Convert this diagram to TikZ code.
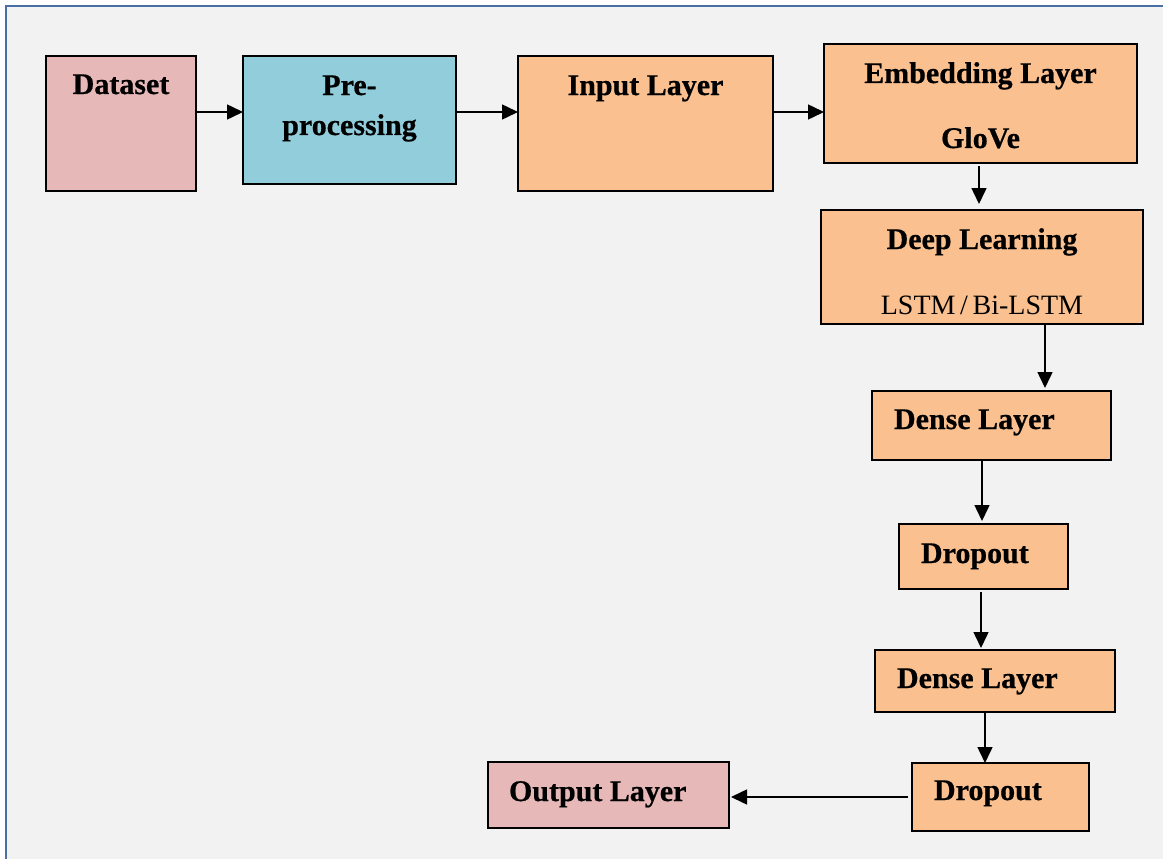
\documentclass[tikz,border=0pt]{standalone}
\usepackage{fontspec}
\setmainfont{Liberation Serif}[BoldFeatures={FakeBold=0.6}]
\usetikzlibrary{arrows.meta}

\definecolor{bgc}{HTML}{F2F2F2}
\definecolor{framec}{HTML}{4A6FA5}
\definecolor{pinkc}{HTML}{E6B9B8}
\definecolor{bluec}{HTML}{92CDDC}
\definecolor{orangec}{HTML}{FAC090}

% fixed-size box contents: width, height, text (text hangs from the top)
\newcommand\boxcontent[3]{\parbox[c][#2][t]{#1}{#3}}
\newcommand\topgap[1]{\rule{0pt}{#1}}

\tikzset{
  block/.style={draw=black, line width=2pt, inner sep=0pt, outer sep=0pt,
    font=\fontsize{30}{36}\selectfont\bfseries},
  conn/.style={line width=1.5pt, -{Triangle[length=16pt,width=15pt]}},
}

\begin{document}
\begin{tikzpicture}[x=1pt,y=-1pt]
  \useasboundingbox (0,0) rectangle (1163,859);
  \clip (0,0) rectangle (1163,859);
  % page and framed panel
  \fill[white] (0,0) rectangle (1163,859);
  \fill[bgc] (6,6) rectangle (1180,880);
  \draw[framec, line width=2.4pt] (1180,6) -- (6,6) -- (6,880);

  % top row
  \node[block, fill=pinkc] (dataset) at (121,123.5)
    {\boxcontent{150pt}{135pt}{\centering\topgap{38pt}Dataset}};
  \node[block, fill=bluec] (pre) at (349.5,120)
    {\boxcontent{213pt}{128pt}{\centering\topgap{39pt}Pre-\\[4pt]processing}};
  \node[block, fill=orangec] (input) at (645.5,123.5)
    {\boxcontent{255pt}{135pt}{\centering\topgap{39pt}Input Layer}};
  \node[block, fill=orangec] (embed) at (980.5,103.5)
    {\boxcontent{313pt}{119pt}{\centering\topgap{39pt}Embedding Layer\\[29pt]GloVe}};

  % right column
  \node[block, fill=orangec] (deep) at (982,267)
    {\boxcontent{322pt}{114pt}{\centering\topgap{39pt}Deep Learning\\[29pt]{\fontsize{28}{36}\selectfont\mdseries LSTM\,/\,Bi-LSTM}}};
  \node[block, fill=orangec] (dense1) at (991.5,425.5)
    {\boxcontent{239pt}{69pt}{\hspace*{22pt}\topgap{38pt}Dense Layer}};
  \node[block, fill=orangec] (drop1) at (983.5,556.5)
    {\boxcontent{169pt}{65pt}{\hspace*{22pt}\topgap{39pt}Dropout}};
  \node[block, fill=orangec] (dense2) at (995,681)
    {\boxcontent{240pt}{62pt}{\hspace*{22pt}\topgap{38pt}Dense Layer}};
  \node[block, fill=orangec] (drop2) at (1000.5,797)
    {\boxcontent{177pt}{68pt}{\hspace*{22pt}\topgap{37pt}Dropout}};
  \node[block, fill=pinkc] (output) at (608.5,795)
    {\boxcontent{241pt}{66pt}{\hspace*{21pt}\topgap{39pt}Output Layer}};

  % connectors
  \draw[conn] (dataset.east |- 0,112) -- (pre.west |- 0,112);
  \draw[conn] (pre.east |- 0,112) -- (input.west |- 0,112);
  \draw[conn] (input.east |- 0,112) -- (embed.west |- 0,112);
  \draw[conn, shorten <=3pt, shorten >=6pt] (979,0 |- embed.south) -- (979,0 |- deep.north);
  \draw[conn, shorten >=3pt] (1045,0 |- deep.south) -- (1045,0 |- dense1.north);
  \draw[conn, shorten >=3pt] (982,0 |- dense1.south) -- (982,0 |- drop1.north);
  \draw[conn, shorten <=3pt, shorten >=2pt] (981,0 |- drop1.south) -- (981,0 |- dense2.north);
  \draw[conn] (985,0 |- dense2.south) -- (985,0 |- drop2.north);
  \draw[conn, shorten <=4pt, shorten >=2pt] (drop2.west |- 0,797) -- (output.east |- 0,797);
\end{tikzpicture}
\end{document}
